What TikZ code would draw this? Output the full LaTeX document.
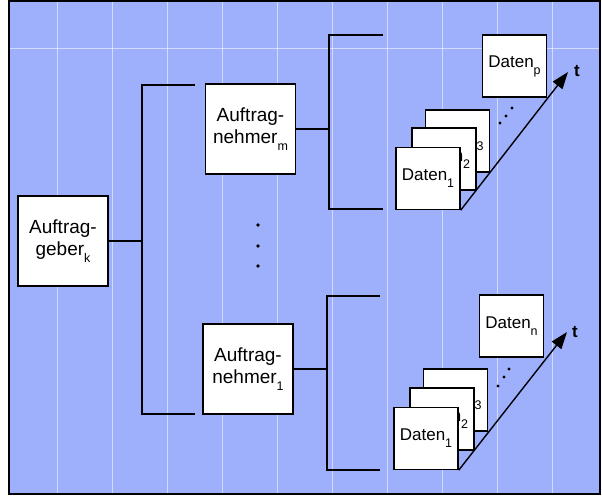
\documentclass[tikz,border=0pt]{standalone}
\usepackage{fontspec}
\setmainfont{Liberation Sans}
\usetikzlibrary{arrows.meta}
\definecolor{bgblue}{RGB}{158,176,252}
\newcommand\sbs[1]{\raisebox{-7pt}{\fontsize{12.5}{12.5}\selectfont #1}}
\begin{document}
\begin{tikzpicture}[x=1pt,y=-1pt,
  box/.style={draw,fill=white,line width=1.4pt,inner sep=0pt,align=center},
  bigbox/.style={box,minimum width=90pt,minimum height=90pt,
    font=\fontsize{19}{22}\selectfont},
  datbox/.style={box,minimum width=64pt,minimum height=62pt,
    font=\fontsize{17}{20}\selectfont},
  conn/.style={line width=1.4pt},
  tarrow/.style={line width=1.4pt,-{Triangle[length=17pt,width=12pt]}},
  dot/.style={fill=black,circle,inner sep=0pt,minimum size=3.6pt},
  tlabel/.style={font=\fontsize{17}{17}\selectfont\bfseries}
]
\useasboundingbox (0,0) rectangle (602,496);
% background
\fill[bgblue] (9,1) rectangle (600,494);
\foreach \x in {57,112,167,222,277,332,387,442,497,552}
  \draw[white,opacity=0.55,line width=0.8pt] (\x,2) -- (\x,493);
\draw[white,opacity=0.55,line width=0.8pt] (10,48) -- (599,48);
\draw[line width=2pt] (9,1) rectangle (600,494);

% main boxes
\node[bigbox] (geber) at (63,241) {Auftrag-\\geber\sbs{k}};
\node[bigbox] (nehm) at (250.5,129) {Auftrag-\\nehmer\sbs{m}};
\node[bigbox] (neh1) at (248,369) {Auftrag-\\nehmer\sbs{1}};

% bracket from Auftraggeber
\coordinate (b1a) at (195,85);
\coordinate (b1b) at (142,85);
\coordinate (b1c) at (142,414);
\coordinate (b1d) at (195,414);
\draw[conn] (b1a) -- (b1b) -- (b1c) -- (b1d);
\draw[conn] (geber.east) -- (geber.east -| b1b);

% bracket from Auftragnehmer_m
\coordinate (b2a) at (383,35);
\coordinate (b2b) at (329,35);
\coordinate (b2c) at (329,209);
\coordinate (b2d) at (383,209);
\draw[conn] (b2a) -- (b2b) -- (b2c) -- (b2d);
\draw[conn] (nehm.east) -- (nehm.east -| b2b);

% bracket from Auftragnehmer_1
\coordinate (b3a) at (380,296);
\coordinate (b3b) at (327,296);
\coordinate (b3c) at (327,470);
\coordinate (b3d) at (380,470);
\draw[conn] (b3a) -- (b3b) -- (b3c) -- (b3d);
\draw[conn] (neh1.east) -- (neh1.east -| b3b);

% vertical dots
\node[dot] (v1) at (258,225) {};
\node[dot] (v2) at (258,246) {};
\node[dot] (v3) at (258,266) {};

% upper data stack
\node[datbox] (up) at (514.5,66) {Daten\sbs{p}};
\node[datbox] (u3) at (457.5,141) {Daten\sbs{3}};
\node[datbox] (u2) at (444,159) {Daten\sbs{2}};
\node[datbox] (u1) at (428,178.5) {Daten\sbs{1}};
\coordinate (tipu) at (568,72);
\draw[tarrow] (u1.south east) -- (tipu);
\node[tlabel] (tu) at (577,71) {t};
\node[dot,minimum size=3.4pt] (ud1) at (500,123) {};
\node[dot,minimum size=3.4pt] (ud2) at (506,116) {};
\node[dot,minimum size=3.4pt] (ud3) at (512,108) {};

% lower data stack
\node[datbox] (ln) at (511.5,326) {Daten\sbs{n}};
\node[datbox] (l3) at (455.5,400) {Daten\sbs{3}};
\node[datbox] (l2) at (442,419) {Daten\sbs{2}};
\node[datbox] (l1) at (426,438.5) {Daten\sbs{1}};
\coordinate (tipl) at (567,332);
\draw[tarrow] (l1.south east) -- (tipl);
\node[tlabel] (tl) at (575,332) {t};
\node[dot,minimum size=3.4pt] (ld1) at (498,386) {};
\node[dot,minimum size=3.4pt] (ld2) at (504,377) {};
\node[dot,minimum size=3.4pt] (ld3) at (509,369) {};
\end{tikzpicture}
\end{document}
